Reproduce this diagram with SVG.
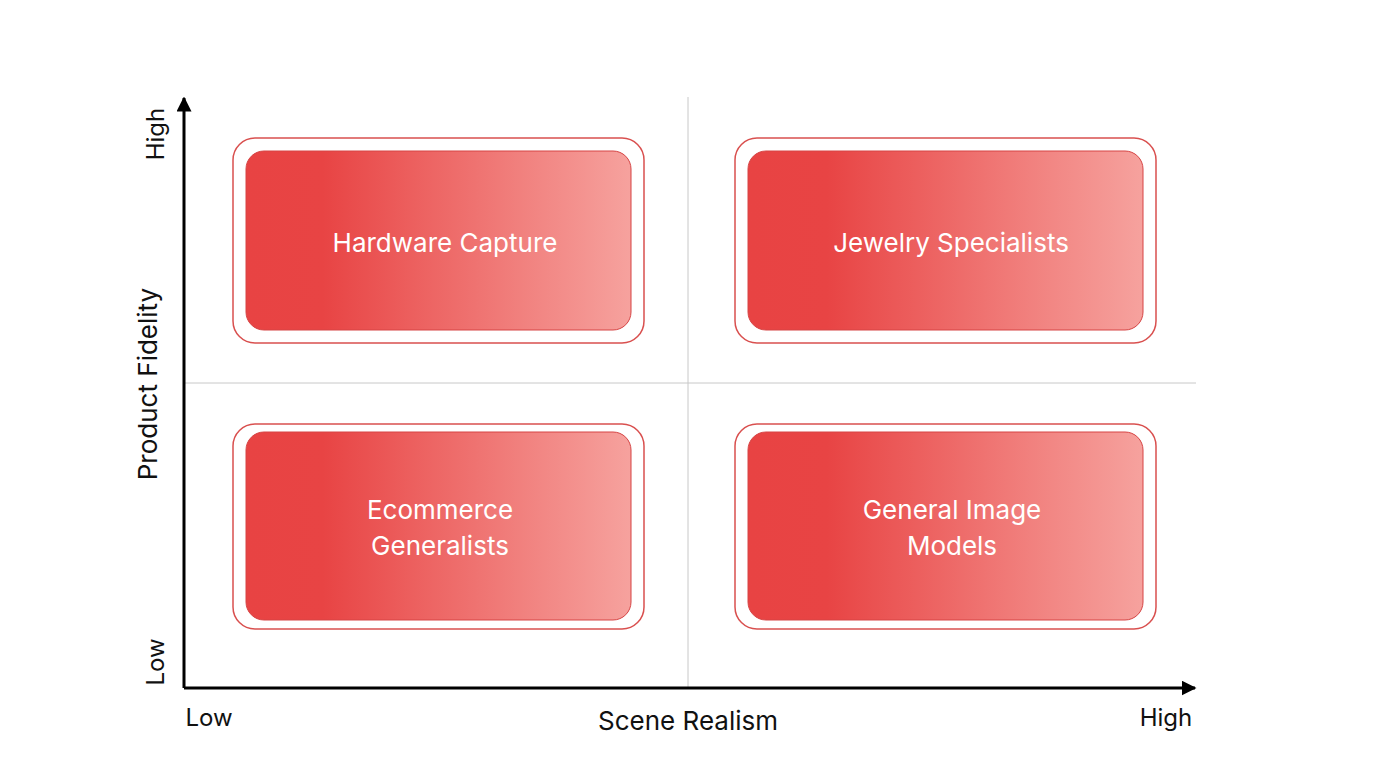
<svg xmlns="http://www.w3.org/2000/svg" width="1376" height="768" viewBox="0 0 1376 768">
<defs>
<linearGradient id="g" x1="0" y1="0" x2="1" y2="0">
<stop offset="0" stop-color="#E84343"/><stop offset="0.2" stop-color="#E84444"/><stop offset="1" stop-color="#F6A29E"/>
</linearGradient>
<marker id="ar" viewBox="0 0 10 10" refX="9" refY="5" markerWidth="5" markerHeight="5" orient="auto" markerUnits="strokeWidth"><path d="M0,0L10,5L0,10z" fill="#000"/></marker>
</defs>
<style>
.o{fill:#fff;stroke:#D9504F;stroke-width:1.5}
.i{fill:url(#g);stroke:#D64545;stroke-width:1}
.t{font-family:Inter,"Liberation Sans",sans-serif;font-size:26px;fill:#fff;text-anchor:middle}
.a{font-family:Inter,"Liberation Sans",sans-serif;font-size:24px;fill:#111;text-anchor:middle}
</style>
<rect width="1376" height="768" fill="#fff"/>
<g id="connectors">
<line x1="688" y1="97" x2="688" y2="688" stroke="#c8c8c8" stroke-width="1"/>
<line x1="184" y1="383" x2="1196" y2="383" stroke="#c8c8c8" stroke-width="1"/>
<line x1="184" y1="688" x2="184" y2="98" stroke="#000" stroke-width="3" marker-end="url(#ar)"/>
<line x1="184" y1="688" x2="1195" y2="688" stroke="#000" stroke-width="3" marker-end="url(#ar)"/>
</g>
<g id="n1"><rect class="o" x="233" y="138" width="411" height="205" rx="22"/><rect class="i" x="246" y="151" width="385" height="179" rx="18"/><text class="t" x="445" y="252">Hardware Capture</text></g>
<g id="n2"><rect class="o" x="735" y="138" width="421" height="205" rx="22"/><rect class="i" x="748" y="151" width="395" height="179" rx="18"/><text class="t" x="951" y="252">Jewelry Specialists</text></g>
<g id="n3"><rect class="o" x="233" y="424" width="411" height="205" rx="22"/><rect class="i" x="246" y="432" width="385" height="188" rx="18"/><text class="t" x="440" y="519">Ecommerce</text><text class="t" x="440" y="555">Generalists</text></g>
<g id="n4"><rect class="o" x="735" y="424" width="421" height="205" rx="22"/><rect class="i" x="748" y="432" width="395" height="188" rx="18"/><text class="t" x="952" y="519">General Image</text><text class="t" x="952" y="555">Models</text></g>
<g id="labels">
<text class="a" x="209" y="726">Low</text>
<text class="a" x="1166" y="726">High</text>
<text class="a" x="688" y="730" style="font-size:26px">Scene Realism</text>
<text class="a" transform="translate(164,134) rotate(-90)">High</text>
<text class="a" transform="translate(164,662) rotate(-90)">Low</text>
<text class="a" transform="translate(157,384) rotate(-90)" style="font-size:26px">Product Fidelity</text>
</g>
</svg>
